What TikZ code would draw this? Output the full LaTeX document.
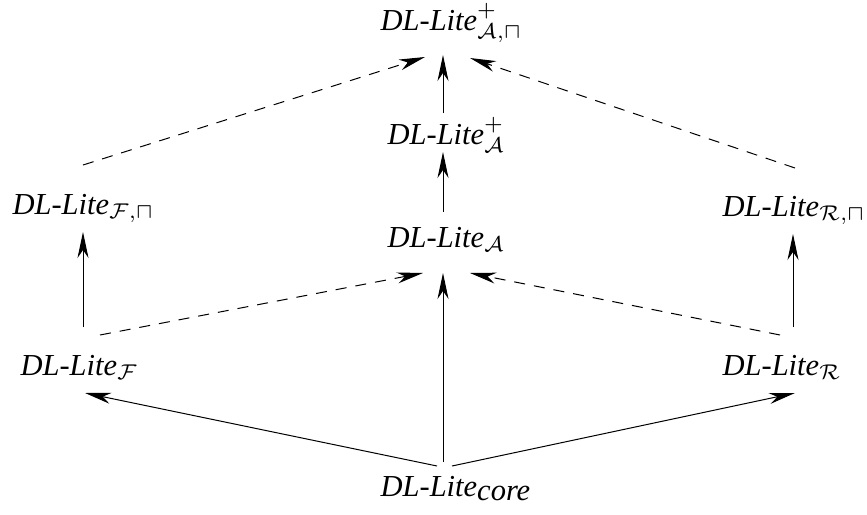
\documentclass[tikz,border=0pt]{standalone}
\usepackage{fontspec}
\setmainfont{Liberation Serif}
\usetikzlibrary{arrows.meta}
\tikzset{
  lbl/.style={anchor=base west, inner sep=0pt, scale=3.05, font=\itshape},
  arr/.style={line width=1pt, -{Stealth[length=26pt, width=11pt, inset=8pt]}},
  darr/.style={arr, dash pattern=on 11pt off 9pt},
}
\newcommand{\dll}{\textit{DL-Lite}}
\begin{document}
\begin{tikzpicture}[x=1pt, y=-1pt]
\useasboundingbox (0,0) rectangle (867,514);
\node[lbl] (T)  at (380,30)  {\dll$^{+}_{\mathcal{A},\sqcap}$};
\node[lbl] (Ap) at (387,144) {\dll$^{+}_{\mathcal{A}}$};
\node[lbl] (A)  at (387,247) {\dll$_{\mathcal{A}}$};
\node[lbl] (Fp) at (12,214)  {\dll$_{\mathcal{F},\sqcap}$};
\node[lbl] (Rp) at (722,216) {\dll$_{\mathcal{R},\sqcap}$};
\node[lbl] (F)  at (20,375)  {\dll$_{\mathcal{F}}$};
\node[lbl] (R)  at (722,375) {\dll$_{\mathcal{R}}$};
\node[lbl] (C)  at (380,496) {\dll$_{\textit{core}}$};
% solid
\draw[arr] ([shift={(63,-34)}]C.base west) -- ([shift={(56,26)}]A.base west);
\draw[arr] ([shift={(57,-30)}]C.base west) -- ([shift={(65,18)}]F.base west);
\draw[arr] ([shift={(72,-30)}]C.base west) -- ([shift={(73,18)}]R.base west);
\draw[arr] ([shift={(63,-48)}]F.base west) -- ([shift={(71,18)}]Fp.base west);
\draw[arr] ([shift={(71,-48)}]R.base west) -- ([shift={(71,18)}]Rp.base west);
\draw[arr] ([shift={(56,-35)}]A.base west) -- ([shift={(56,8)}]Ap.base west);
\draw[arr] ([shift={(56,-31)}]Ap.base west) -- ([shift={(63,25)}]T.base west);
% dashed
\draw[darr] ([shift={(80,-40)}]F.base west) -- ([shift={(36,26)}]A.base west);
\draw[darr] ([shift={(58,-40)}]R.base west) -- ([shift={(83,26)}]A.base west);
\draw[darr] ([shift={(71,-49)}]Fp.base west) -- ([shift={(45,27)}]T.base west);
\draw[darr] ([shift={(73,-48)}]Rp.base west) -- ([shift={(90,28)}]T.base west);
\end{tikzpicture}
\end{document}
